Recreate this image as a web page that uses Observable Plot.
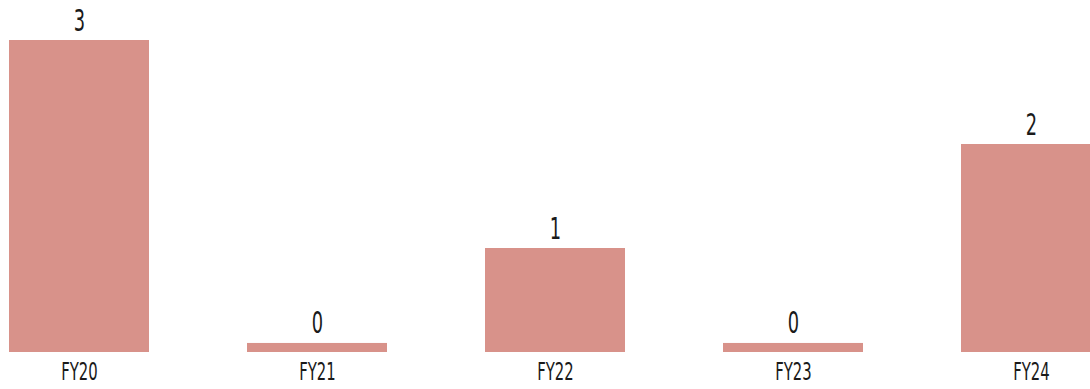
<!DOCTYPE html>
<html>
<head>
<meta charset="utf-8">
<script src="https://cdn.jsdelivr.net/npm/d3@7"></script>
<script src="https://cdn.jsdelivr.net/npm/@observablehq/plot@0.6"></script>
<style>
  html, body { margin: 0; padding: 0; background: #fff; }
  #chart svg { display: block; }
  #chart text { font-family: "DejaVu Sans Condensed", "DejaVu Sans", sans-serif; }
</style>
</head>
<body>
<div id="chart"></div>
<script>
const categories = ["FY20", "FY21", "FY22", "FY23", "FY24"];
const values = [3, 0, 1, 0, 2];

const barColor = "#d8928a";
const minShown = 0.087; // zero bars keep a thin visible stub, as in the reference
const data = categories.map((c, i) => ({ cat: c, value: values[i] }));
const shown = d => Math.max(d.value, minShown);

const chart = Plot.plot({
  width: 1090,
  height: 389,
  marginLeft: 0,
  marginRight: 0,
  marginTop: 0,
  marginBottom: 37,
  style: { background: "#fff", color: "#1a1a1a" },
  x: { domain: categories, range: [9, 1101], paddingInner: 98 / 238, paddingOuter: 0, label: null },
  y: { domain: [0, 3], range: [352, 40], axis: null },
  marks: [
    Plot.barY(data, { x: "cat", y1: 0, y2: shown, fill: barColor }),
    Plot.text(data, { x: "cat", y: shown, text: d => String(d.value), dy: -10, lineAnchor: "bottom", fontSize: 30, fill: "#1a1a1a" }),
    Plot.axisX({ tickSize: 0, tickPadding: 10, fontSize: 25, fill: "#1a1a1a", label: null })
  ]
});

// Condense glyphs horizontally around each label's anchor point
chart.querySelectorAll("text").forEach(t => {
  const tr = t.getAttribute("transform") || "";
  t.setAttribute("transform", (tr + " scale(0.66,1)").trim());
});

document.getElementById("chart").appendChild(chart);
</script>
</body>
</html>
